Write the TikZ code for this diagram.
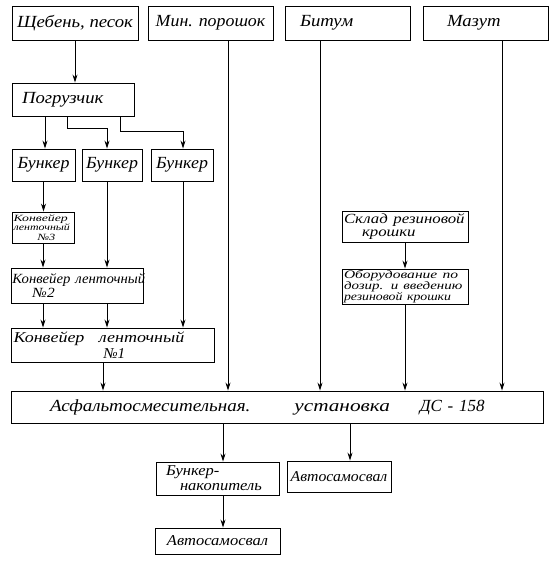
\documentclass[tikz,border=0pt]{standalone}
\usepackage{fontspec}
\usepackage{graphicx}
\setmainfont{Liberation Serif}
\usetikzlibrary{arrows.meta}
\newcommand\hs[2]{\scalebox{#1}[1]{#2}}
\begin{document}
\begin{tikzpicture}[x=1pt,y=-1pt,
  box/.style={draw, line width=0.9pt, inner sep=0pt, font=\itshape\fontsize{17}{17}\selectfont},
  arr/.style={line width=0.9pt, -{Stealth[length=8pt,width=5pt,inset=2.5pt]}}]
\useasboundingbox (0,0) rectangle (550,562);
% top row
\node[box, minimum width=126pt, minimum height=34pt] (A) at (75,23) {\hs{1.1}{Щебень, песок}};
\node[box, minimum width=125pt, minimum height=34pt] (B) at (210.5,23) {\hs{1.05}{Мин. порошок}};
\node[box, minimum width=125pt, minimum height=34pt, text width=95pt, align=left] (C) at (347.5,23) {\hs{1.1}{Битум}};
\node[box, minimum width=125pt, minimum height=34pt, text width=77pt, align=left] (D) at (485.5,23) {\hs{1.1}{Мазут}};
% loader
\node[box, minimum width=122pt, minimum height=33pt, text width=102pt, align=left] (E) at (73,99.5) {\hs{1.1}{Погрузчик}};
% bunkers
\node[box, minimum width=63pt, minimum height=32pt] (B1) at (43.5,165) {\hs{1.05}{Бункер}};
\node[box, minimum width=60pt, minimum height=32pt] (B2) at (112,165) {\hs{1.05}{Бункер}};
\node[box, minimum width=62pt, minimum height=32pt] (B3) at (182,165) {\hs{1.05}{Бункер}};
% conveyors
\node[box, minimum width=62pt, minimum height=31pt, text width=59pt, align=left,
  font=\itshape\fontsize{9.5}{9.5}\selectfont] (K3) at (43,227.5)
  {\hs{1.45}{Конвейер}\\\hs{1.25}{ленточный}\\\hspace*{24pt}\hs{1.3}{№3}};
\node[box, minimum width=132pt, minimum height=35pt, text width=129pt, align=left,
  font=\itshape\fontsize{14}{14.5}\selectfont] (K2) at (77,285.5)
  {\hs{1.05}{Конвейер ленточный}\\\hspace*{20pt}\hs{1.1}{№2}};
\node[box, minimum width=203pt, minimum height=34pt, text width=198pt, align=left,
  font=\itshape\fontsize{15}{15.5}\selectfont] (K1) at (112.5,345)
  {\hs{1.2}{Конвейер\hspace{12pt}ленточный}\\\hspace*{90pt}№1};
% rubber crumb
\node[box, minimum width=126pt, minimum height=31pt, text width=122pt, align=left,
  font=\itshape\fontsize{14}{13.5}\selectfont] (S) at (405,226.5)
  {\hs{1.2}{Склад резиновой}\\\hspace*{18pt}\hs{1.2}{крошки}};
\node[box, minimum width=126pt, minimum height=35pt, text width=122pt, align=left,
  font=\itshape\fontsize{11.5}{10.8}\selectfont] (O) at (405,286.5)
  {\hs{1.35}{Оборудование по}\\\hs{1.3}{дозир. и введению}\\\hs{1.2}{резиновой крошки}};
% plant
\node[box, minimum width=532pt, minimum height=32pt, text width=454pt, align=left] (ASU) at (277,407)
  {\hs{1.12}{Асфальтосмесительная.}\hspace{44pt}\hs{1.25}{установка}\hspace{30pt}\hs{1.0}{ДС - 158}};
% bottom
\node[box, minimum width=123pt, minimum height=33pt, text width=115pt, align=left,
  font=\itshape\fontsize{15}{15}\selectfont] (BN) at (217.5,478.5)
  {\hspace*{6pt}\hs{1.1}{Бункер-}\\\hspace*{20pt}\hs{1.1}{накопитель}};
\node[box, minimum width=104pt, minimum height=31pt, font=\itshape\fontsize{15}{15}\selectfont] (AS1) at (339,476.5) {\hs{1.05}{Автосамосвал}};
\node[box, minimum width=125pt, minimum height=26pt, font=\itshape\fontsize{15}{15}\selectfont] (AS2) at (217.5,541) {\hs{1.1}{Автосамосвал}};
% x positions and jogs
\coordinate (xB) at (228,0);
\coordinate (xC) at (320,0);
\coordinate (xD) at (502,0);
\coordinate (xE1) at (45,0);
\coordinate (j2a) at (67,128);
\coordinate (j2b) at (107,128);
\coordinate (j3a) at (120,131);
\coordinate (j3b) at (183,131);
\coordinate (xK) at (103,0);
\coordinate (xU1) at (223,0);
\coordinate (xU2) at (350,0);
% connectors
\draw[arr] (A.south) -- (A.south |- E.north);
\draw[arr] (B.south -| xB) -- (ASU.north -| xB);
\draw[arr] (C.south -| xC) -- (ASU.north -| xC);
\draw[arr] (D.south -| xD) -- (ASU.north -| xD);
\draw[arr] (E.south -| xE1) -- (B1.north -| xE1);
\draw[arr] (E.south -| j2a) -- (j2a) -- (j2b) -- (B2.north -| j2b);
\draw[arr] (E.south -| j3a) -- (j3a) -- (j3b) -- (B3.north -| j3b);
\draw[arr] (B1.south) -- (B1.south |- K3.north);
\draw[arr] (B2.south -| j2b) -- (K2.north -| j2b);
\draw[arr] (B3.south -| j3b) -- (K1.north -| j3b);
\draw[arr] (K3.south) -- (K3.south |- K2.north);
\draw[arr] (K2.south -| K3.south) -- (K1.north -| K3.south);
\draw[arr] (K2.south -| j2b) -- (K1.north -| j2b);
\draw[arr] (K1.south -| xK) -- (ASU.north -| xK);
\draw[arr] (S.south) -- (O.north);
\draw[arr] (O.south) -- (O.south |- ASU.north);
\draw[arr] (ASU.south -| xU1) -- (BN.north -| xU1);
\draw[arr] (ASU.south -| xU2) -- (AS1.north -| xU2);
\draw[arr] (BN.south -| xU1) -- (AS2.north -| xU1);
\end{tikzpicture}
\end{document}
